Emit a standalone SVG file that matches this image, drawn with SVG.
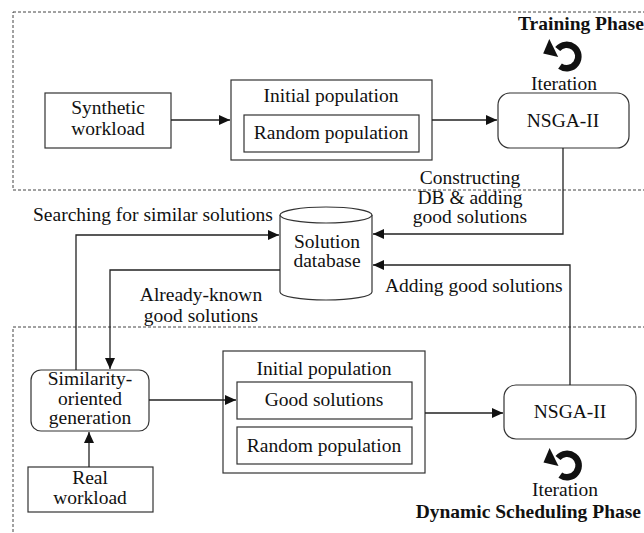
<svg xmlns="http://www.w3.org/2000/svg" width="644" height="533" viewBox="0 0 644 533">
<style>
text{font-family:"Liberation Serif","Times New Roman",serif;font-size:19.5px;fill:#111}
.c{text-anchor:middle}
.b{font-weight:bold}
.box{fill:#fff;stroke:#333;stroke-width:1.2}
.phase{fill:none;stroke:#444;stroke-width:1;stroke-dasharray:3 2}
.conn{fill:none;stroke:#222;stroke-width:1.3}
.icon{fill:none;stroke:#111;stroke-width:6.5}
</style>
<defs>
<marker id="ah" markerUnits="userSpaceOnUse" markerWidth="11" markerHeight="10" refX="11" refY="5" orient="auto">
<path d="M0,0 L11,5 L0,10 z" fill="#111"/>
</marker>
<g id="iter-icon">
<path class="icon" d="M-6.7,9.6 A11.7,11.7 0 1 0 -9,-7.5"/>
<path d="M-23.5,-3 L-17.4,-17.5 L-8.5,0.5 z" fill="#111"/>
</g>
</defs>

<g id="training-phase">
<rect class="phase" x="13" y="12" width="700" height="178"/>
<text class="b" x="518" y="30">Training Phase</text>
</g>
<g id="dynamic-phase">
<rect class="phase" x="13" y="327" width="700" height="260"/>
<text class="b" x="641" y="518" text-anchor="end">Dynamic Scheduling Phase</text>
</g>

<g id="label-constructing">
<text class="c" x="470" y="184">Constructing</text>
<text class="c" x="470" y="204">DB &amp; adding</text>
<text class="c" x="470" y="223">good solutions</text>
</g>
<g id="label-searching"><text x="33" y="221">Searching for similar solutions</text></g>
<g id="label-adding"><text x="385" y="292">Adding good solutions</text></g>
<g id="label-known">
<text class="c" x="201" y="301">Already-known</text>
<text class="c" x="201" y="322">good solutions</text>
</g>

<g id="synthetic-workload">
<rect class="box" x="45" y="93" width="126" height="55"/>
<text class="c" x="108" y="114">Synthetic</text>
<text class="c" x="108" y="135">workload</text>
</g>
<g id="initial-population-1">
<rect class="box" x="231" y="80" width="201" height="80"/>
<text class="c" x="331" y="102">Initial population</text>
<rect class="box" x="244" y="115" width="175" height="37"/>
<text class="c" x="331" y="139">Random population</text>
</g>
<g id="nsga-1">
<rect class="box" x="498" y="93" width="131" height="55" rx="12"/>
<text class="c" x="563" y="127">NSGA-II</text>
<use href="#iter-icon" x="566.7" y="56.5"/>
<text class="c" x="564" y="90">Iteration</text>
</g>
<g id="solution-database">
<path class="box" d="M280,215 V292 A46,8 0 0 0 372,292 V215"/>
<ellipse class="box" cx="326" cy="215" rx="46" ry="8"/>
<text class="c" x="327" y="248">Solution</text>
<text class="c" x="327" y="267">database</text>
</g>
<g id="similarity-generation">
<rect class="box" x="31" y="370" width="118" height="61" rx="10"/>
<text class="c" x="90" y="385">Similarity-</text>
<text class="c" x="90" y="405">oriented</text>
<text class="c" x="90" y="424">generation</text>
</g>
<g id="real-workload">
<rect class="box" x="28" y="467" width="125" height="45"/>
<text class="c" x="90" y="484">Real</text>
<text class="c" x="90" y="504">workload</text>
</g>
<g id="initial-population-2">
<rect class="box" x="223" y="351" width="202" height="122"/>
<text class="c" x="324" y="375">Initial population</text>
<rect class="box" x="237" y="382" width="175" height="37"/>
<text class="c" x="324" y="406">Good solutions</text>
<rect class="box" x="237" y="427" width="175" height="37"/>
<text class="c" x="324" y="452">Random population</text>
</g>
<g id="nsga-2">
<rect class="box" x="504" y="385" width="132" height="54" rx="12"/>
<text class="c" x="570" y="418">NSGA-II</text>
<use href="#iter-icon" x="567" y="465.5"/>
<text class="c" x="565" y="496">Iteration</text>
</g>

<g id="connectors">
<path class="conn" d="M171,120 H230" marker-end="url(#ah)"/>
<path class="conn" d="M432,120 H497" marker-end="url(#ah)"/>
<path class="conn" d="M563,148 V234 H373" marker-end="url(#ah)"/>
<path class="conn" d="M76,370 V235 H279" marker-end="url(#ah)"/>
<path class="conn" d="M280,270 H110 V369" marker-end="url(#ah)"/>
<path class="conn" d="M570,385 V265 H373" marker-end="url(#ah)"/>
<path class="conn" d="M89,467 V432" marker-end="url(#ah)"/>
<path class="conn" d="M149,400 H236" marker-end="url(#ah)"/>
<path class="conn" d="M425,413 H503" marker-end="url(#ah)"/>
</g>
</svg>
